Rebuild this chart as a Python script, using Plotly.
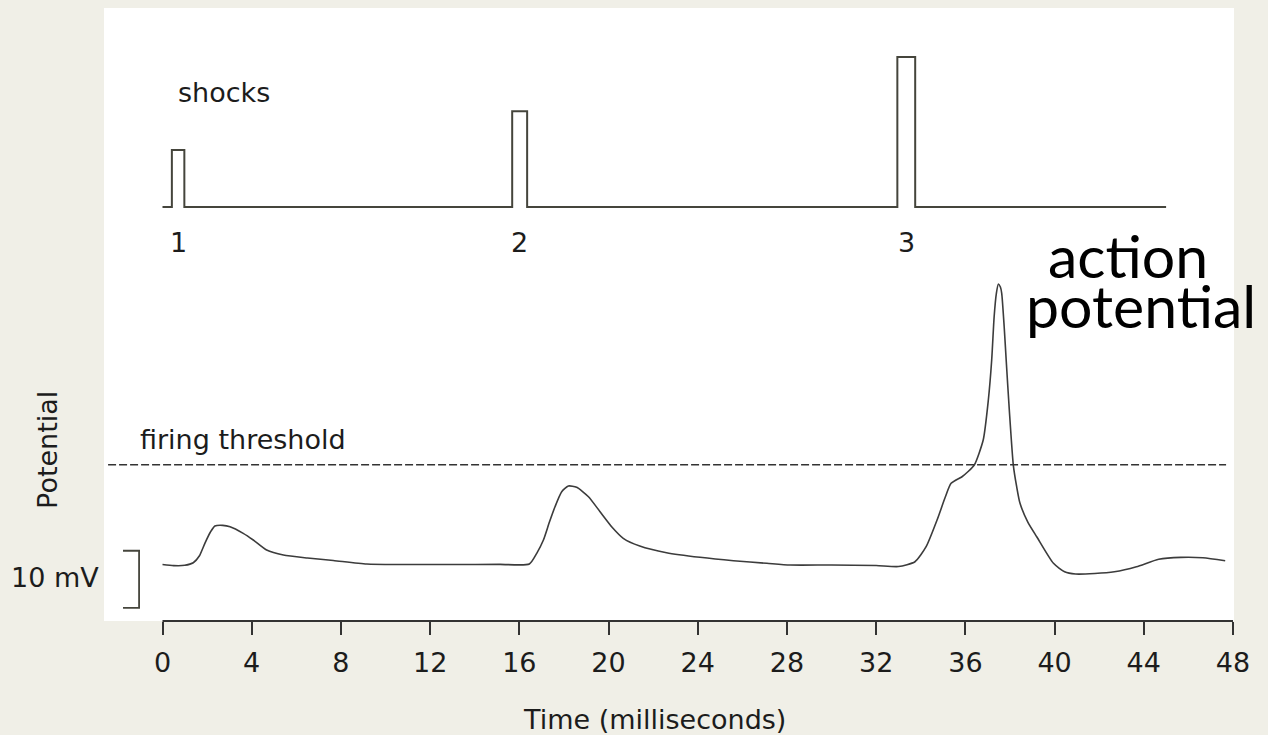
import plotly.graph_objects as go

# ---------------- data ----------------
# membrane potential trace (time in ms, potential in mV)
time_ms = [0.0, 0.5, 1.0, 1.38, 1.65, 1.9, 2.15, 2.35, 2.7, 3.03, 3.62, 4.07, 4.67, 5.42,
           6.5, 7.66, 9.16, 10.65, 13.0, 15.13, 16.45, 16.78, 17.08, 17.35, 17.6, 17.9,
           18.2, 18.57, 19.1, 19.62, 20.2, 20.66, 21.4, 22.6, 24.1, 25.6, 27.1, 28.14,
           30.0, 32.0, 33.0, 33.74, 34.24, 34.73, 35.1, 35.36, 35.85, 36.1, 36.4, 36.8,
           37.03, 37.18, 37.29, 37.39, 37.48, 37.57, 37.63, 37.74, 37.83, 37.97, 38.15,
           38.3, 38.45, 38.8, 39.2, 39.95, 40.45, 40.94, 41.8, 42.68, 43.67, 44.67,
           45.66, 46.65, 47.65]
potential_mv = [-69.9, -70.1, -70.05, -69.6, -68.42, -66.19, -64.21, -63.16, -63.04,
                -63.28, -64.44, -65.61, -67.37, -68.25, -68.77, -69.21, -69.82, -69.91,
                -69.91, -69.88, -69.82, -67.95, -65.61, -62.46, -59.77, -57.14, -56.14,
                -56.37, -58.02, -60.65, -63.56, -65.32, -66.67, -67.84, -68.65, -69.25,
                -69.70, -70.0, -70.0, -70.09, -70.26, -69.42, -66.79, -62.11, -58.07,
                -55.67, -54.51, -53.68, -52.46, -48.07, -41.05, -34.04, -26.44, -22.33,
                -20.70, -21.23, -22.33, -28.19, -34.04, -42.81, -52.46, -56.26, -59.18,
                -62.46, -65.04, -69.70, -71.18, -71.58, -71.49, -71.18, -70.30, -69.0,
                -68.65, -68.72, -69.25]

threshold_mv = -52.4
threshold_span_ms = [-2.44, 47.69]

# shocks (stimulus pulses)
shock_labels = ["1", "2", "3"]
shock_on_ms = [0.42, 15.68, 32.95]
shock_off_ms = [0.98, 16.35, 33.75]
shock_amplitude = [1.0, 1.68, 2.63]
shock_trace_end_ms = 45.0

scale_bar_mv = 10
scale_bar_top_mv = -67.5

x_ticks = [0, 4, 8, 12, 16, 20, 24, 28, 32, 36, 40, 44, 48]

# ---------------- build ----------------
BG = "#f0efe7"
INK = "#1c1c1c"
LINE = "#45453c"
FONT = "DejaVu Sans"

shock_x = [0.0]
shock_y = [0.0]
for on, off, amp in zip(shock_on_ms, shock_off_ms, shock_amplitude):
    shock_x += [on, on, off, off]
    shock_y += [0.0, amp, amp, 0.0]
shock_x.append(shock_trace_end_ms)
shock_y.append(0.0)

fig = go.Figure()

fig.add_trace(go.Scatter(x=shock_x, y=shock_y, mode="lines", yaxis="y2",
                         line=dict(color=LINE, width=2), hoverinfo="skip", showlegend=False))

fig.add_trace(go.Scatter(x=time_ms, y=potential_mv, mode="lines",
                         line=dict(color="#3c3c3c", width=1.6, shape="spline", smoothing=0.6),
                         showlegend=False, name="Potential"))

fig.add_trace(go.Scatter(x=threshold_span_ms, y=[threshold_mv, threshold_mv], mode="lines",
                         line=dict(color="#333333", width=1.5, dash="8px,3px"),
                         hoverinfo="skip", showlegend=False))

# 10 mV scale bar
bar_x0, bar_x1 = -1.77, -1.05
fig.add_trace(go.Scatter(
    x=[bar_x0, bar_x1, bar_x1, bar_x0],
    y=[scale_bar_top_mv, scale_bar_top_mv, scale_bar_top_mv - scale_bar_mv, scale_bar_top_mv - scale_bar_mv],
    mode="lines", line=dict(color=LINE, width=1.8), hoverinfo="skip", showlegend=False))

annotations = [
    dict(text="shocks", x=0.6, y=2.0, xref="x", yref="y2", xanchor="left", yanchor="middle",
         showarrow=False, font=dict(family=FONT, size=27, color=INK)),
    dict(text="firing threshold", x=-1.1, y=-47.9, xref="x", yref="y", xanchor="left",
         yanchor="middle", showarrow=False, font=dict(family=FONT, size=27, color=INK)),
    dict(text="Potential", x=-0.0496, y=0.279, xref="paper", yref="paper", textangle=-90,
         xanchor="center", yanchor="middle", showarrow=False,
         font=dict(family=FONT, size=27, color=INK)),
    dict(text="10 mV", x=-0.0434, y=(621 - 577) / 613, xref="paper", yref="paper",
         xanchor="center", yanchor="middle", showarrow=False,
         font=dict(family=FONT, size=27, color=INK)),
    dict(text="Time (milliseconds)", x=0.4876, y=-0.1615, xref="paper", yref="paper",
         xanchor="center", yanchor="middle", showarrow=False,
         font=dict(family=FONT, size=27, color=INK)),
    dict(text="action", x=(1128 - 104) / 1130, y=(621 - 255) / 613, xref="paper", yref="paper",
         xanchor="center", yanchor="middle", showarrow=False,
         font=dict(family="Lato", size=59, color="#000000")),
    dict(text="potential", x=(1024 - 104) / 1130, y=(621 - 305) / 613, xref="paper", yref="paper",
         xanchor="left", yanchor="middle", showarrow=False,
         font=dict(family="Lato", size=59, color="#000000")),
]
for lab, on, off in zip(shock_labels, shock_on_ms, shock_off_ms):
    annotations.append(dict(text=lab, x=(on + off) / 2, y=-0.62, xref="x", yref="y2",
                            xanchor="center", yanchor="middle", showarrow=False,
                            font=dict(family=FONT, size=27, color=INK)))

# the page body adds an 8 px offset, so figure-pixel margins are shifted by 8
fig.update_layout(
    width=1268, height=735,
    margin=dict(l=96, r=42, t=0, b=122, autoexpand=False),
    paper_bgcolor=BG, plot_bgcolor="#ffffff",
    showlegend=False,
    xaxis=dict(range=[-2.623, 48.045], tickmode="array", tickvals=x_ticks,
               ticktext=[str(v) for v in x_ticks], ticks="outside", ticklen=13, tickwidth=2,
               tickcolor="#333333", showgrid=False, zeroline=False, showline=False,
               ticklabelstandoff=5, tickfont=dict(family=FONT, size=27, color=INK),
               automargin=False, fixedrange=True),
    yaxis=dict(range=[-79.82, 27.72], visible=False, fixedrange=True),
    yaxis2=dict(range=[-7.263, 3.491], overlaying="y", visible=False, fixedrange=True),
    annotations=annotations,
    shapes=[dict(type="line", xref="x", yref="paper", x0=x_ticks[0], x1=x_ticks[-1],
                 y0=0, y1=0, line=dict(color="#333333", width=2), layer="above")],
)

fig.write_html("out.html",
               post_script="document.body.style.backgroundColor='#f0efe7';")
